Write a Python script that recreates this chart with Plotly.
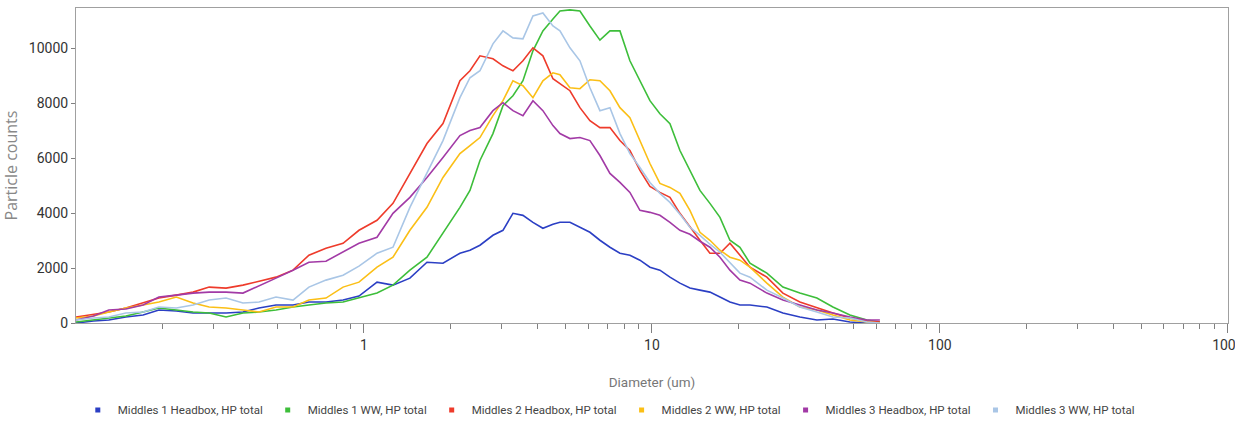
import plotly.graph_objects as go

# Diameter grid (um) shared by all series
diameter = [0.100, 0.115, 0.130, 0.149, 0.171, 0.194, 0.223, 0.255, 0.290, 0.332,
            0.380, 0.432, 0.495, 0.567, 0.644, 0.738, 0.846, 0.961, 1.110, 1.261,
            1.444, 1.655, 1.881, 2.154, 2.334, 2.528, 2.805, 3.039, 3.291, 3.565,
            3.862, 4.182, 4.532, 4.793, 5.192, 5.623, 6.091, 6.598, 7.148, 7.743,
            8.386, 9.085, 9.842, 10.66, 11.55, 12.51, 13.55, 14.68, 15.90, 17.23,
            18.66, 20.21, 21.90, 25.07, 28.50, 32.64, 37.40, 42.51, 48.70, 55.79,
            61.89]

m1_headbox = [0, 73, 109, 218, 290, 472, 436, 363, 363, 363,
              399, 545, 653, 653, 762, 762, 835, 980, 1488, 1379,
              1634, 2214, 2178, 2541, 2650, 2831, 3194, 3376, 3993, 3920,
              3666, 3449, 3594, 3666, 3666, 3485, 3303, 3013, 2759, 2541,
              2468, 2287, 2033, 1924, 1670, 1452, 1271, 1198, 1125, 944,
              762, 653, 653, 581, 363, 218, 109, 145, 36, 0,
              0]

m1_ww = [36, 109, 182, 254, 399, 545, 472, 399, 363, 218,
         363, 399, 472, 581, 653, 726, 762, 908, 1089, 1379,
         1924, 2396, 3267, 4211, 4828, 5917, 6897, 7913, 8276, 8821,
         9910, 10636, 11072, 11362, 11400, 11362, 10817, 10300, 10636, 10636,
         9547, 8821, 8095, 7620, 7260, 6280, 5554, 4828, 4356, 3848,
         3013, 2759, 2178, 1815, 1307, 1089, 908, 581, 290, 109,
         36]

m2_headbox = [218, 327, 399, 545, 726, 908, 1016, 1125, 1307, 1271,
              1379, 1525, 1670, 1924, 2468, 2723, 2904, 3376, 3739, 4356,
              5445, 6534, 7260, 8821, 9184, 9728, 9620, 9365, 9184, 9547,
              10019, 9728, 8894, 8712, 8458, 7841, 7369, 7115, 7115, 6643,
              6280, 5554, 4973, 4755, 4574, 3993, 3485, 3013, 2541, 2541,
              2904, 2468, 2033, 1670, 1089, 762, 545, 363, 182, 73,
              36]

m2_ww = [182, 254, 399, 545, 653, 762, 944, 726, 581, 545,
         472, 399, 581, 581, 835, 908, 1307, 1488, 2033, 2396,
         3376, 4211, 5300, 6171, 6461, 6752, 7550, 8095, 8821, 8639,
         8204, 8821, 9111, 9039, 8567, 8531, 8857, 8821, 8458, 7841,
         7478, 6643, 5808, 5082, 4937, 4719, 4102, 3303, 3013, 2650,
         2396, 2287, 2033, 1452, 944, 581, 472, 290, 109, 36,
         0]

m3_headbox = [109, 254, 472, 508, 653, 944, 1016, 1089, 1125, 1125,
              1089, 1343, 1634, 1924, 2214, 2251, 2577, 2904, 3122, 3993,
              4574, 5300, 6026, 6824, 7006, 7115, 7732, 8022, 7732, 7550,
              8095, 7732, 7187, 6897, 6716, 6752, 6643, 6098, 5445, 5118,
              4755, 4102, 4029, 3920, 3666, 3376, 3231, 2977, 2759, 2396,
              1924, 1561, 1452, 1089, 835, 653, 472, 363, 218, 109,
              109]

m3_ww = [109, 182, 218, 363, 399, 581, 545, 653, 835, 908,
         726, 762, 944, 835, 1307, 1561, 1742, 2069, 2541, 2759,
         4211, 5445, 6643, 8204, 8930, 9184, 10164, 10636, 10382, 10346,
         11180, 11289, 10817, 10636, 10019, 9547, 8567, 7732, 7841, 6897,
         6171, 5663, 5118, 4719, 4392, 3957, 3485, 3194, 2868, 2577,
         2178, 1815, 1670, 1198, 908, 581, 399, 218, 182, 36,
         0]

series_names = ["Middles 1 Headbox, HP total", "Middles 1 WW, HP total",
                "Middles 2 Headbox, HP total", "Middles 2 WW, HP total",
                "Middles 3 Headbox, HP total", "Middles 3 WW, HP total"]
series_values = [m1_headbox, m1_ww, m2_headbox, m2_ww, m3_headbox, m3_ww]
series_colors = ["#2B3FC4", "#3DBE3A", "#EE3B2B", "#FBBF16", "#A23AA6", "#A9C6E6"]

x_major_ticks = [1, 10, 100, 1000]
x_minor_ticks = [m * 10 ** e for e in (-1, 0, 1, 2) for m in range(2, 10)]
y_ticks = [0, 2000, 4000, 6000, 8000, 10000]

FONT = "Roboto, Liberation Sans, sans-serif"

fig = go.Figure()
for name, vals, col in zip(series_names, series_values, series_colors):
    fig.add_trace(go.Scatter(x=diameter, y=vals, mode="lines", name=name,
                             line=dict(color=col, width=1.6), showlegend=False))
for name, col in zip(series_names, series_colors):
    fig.add_trace(go.Scatter(x=[None], y=[None], mode="markers", name=name,
                             marker=dict(symbol="square", size=5, color=col),
                             showlegend=True))

fig.update_layout(
    template="none",
    width=1235, height=436,
    margin=dict(l=76, r=7, t=8, b=113, autoexpand=False),
    paper_bgcolor="white", plot_bgcolor="white",
    font=dict(family=FONT, size=13, color="#333333"),
    showlegend=True,
    legend=dict(orientation="h", x=0.4625, xanchor="center", y=-0.276, yanchor="middle",
                font=dict(family=FONT, size=11.5, color="#444444"),
                itemwidth=30, tracegroupgap=0, bgcolor="rgba(0,0,0,0)"),
    xaxis=dict(type="log", range=[-1, 3.0005], tickmode="array", tickvals=x_major_ticks,
               ticktext=[str(v) for v in x_major_ticks], ticklabeloverflow="allow",
               ticks="outside", ticklen=9, tickcolor="#808080", tickwidth=1,
               minor=dict(tickmode="array", tickvals=x_minor_ticks, ticks="outside",
                          ticklen=5, tickcolor="#808080", tickwidth=1, showgrid=False),
               showgrid=False, zeroline=False, showline=True, mirror=True,
               linecolor="#A0A0A0", linewidth=1, automargin=False,
               tickfont=dict(family=FONT, size=14, color="#333333"),
               title=dict(text="Diameter (um)", standoff=25,
                          font=dict(family=FONT, size=13.5, color="#777777"))),
    yaxis=dict(range=[0, 11470], tickmode="array", tickvals=y_ticks, tickformat="d",
               ticks="outside", ticklen=4, tickcolor="#808080",
               showgrid=False, zeroline=False, showline=True, mirror=True,
               linecolor="#A0A0A0", linewidth=1, automargin=False,
               tickfont=dict(family=FONT, size=14, color="#333333"),
               title=dict(text="Particle counts", standoff=16,
                          font=dict(family="Open Sans, sans-serif", size=16, color="#888888"))),
)

fig.write_html("out.html", config={"displayModeBar": False},
               post_script="document.body.style.margin='0';document.body.style.overflow='hidden';")
